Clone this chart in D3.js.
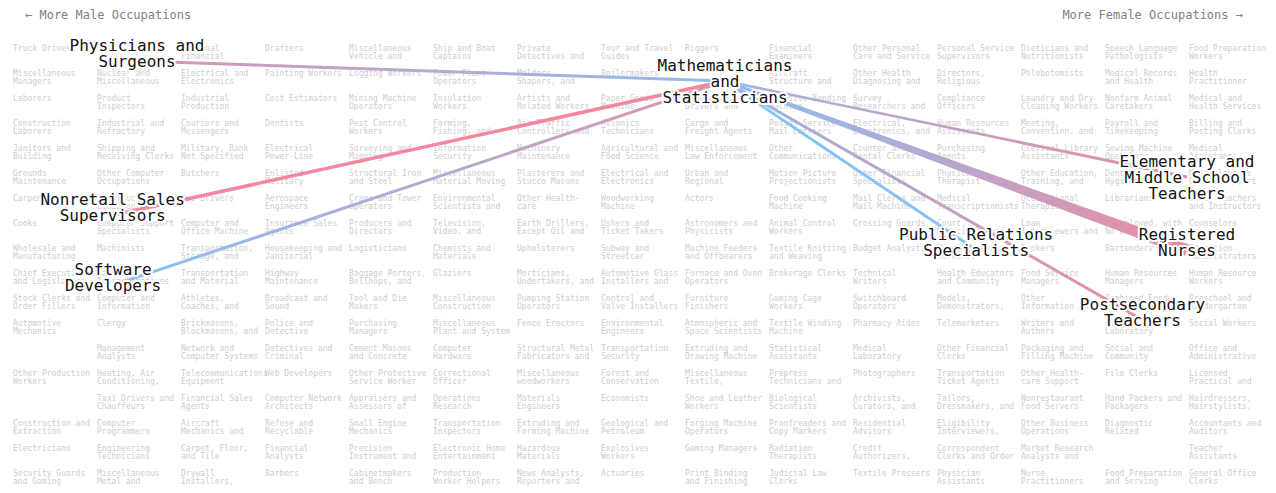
<!DOCTYPE html>
<html><head><meta charset="utf-8">
<script src="https://cdn.jsdelivr.net/npm/d3@7/dist/d3.min.js"></script>
<style>
html,body{margin:0;padding:0;background:#fff;}
svg{display:block;}
text{font-family:"DejaVu Sans Mono",monospace;}
</style></head><body>
<svg id="chart" width="1276" height="493"></svg>
<script>
// ---- Background grid of occupations (15 columns, male -> female), 18 rows each ----
const col00 = ["Truck Drivers","Miscellaneous Managers","Laborers","Construction Laborers","Janitors and Building","Grounds Maintenance","Carpenters","Cooks","Wholesale and Manufacturing","Chief Executives and Legislators","Stock Clerks and Order Fillers","Automotive Mechanics","","Other Production Workers","","Construction and Extraction","Electricians","Security Guards and Gaming"];
const col01 = ["","Nuclear and Miscellaneous","Product Inspectors","Industrial and Refractory","Shipping and Receiving Clerks","Other Computer Occupations","Construction Equipment","Computer Support Specialists","Machinists","Sales Representatives","Computer and Information","Clergy","Management Analysts","Heating, Air Conditioning,","Taxi Drivers and Chauffeurs","Computer Programmers","Engineering Technicians","Miscellaneous Metal and"];
const col02 = ["Personal Financial","Electrical and Electronics","Industrial Production","Couriers and Messengers","Military, Rank Not Specified","Butchers","Bus Drivers","Computer and Office Machine","Transportation, Storage, and","Transportation and Material","Athletes, Coaches, and","Brickmasons, Blockmasons, and","Network and Computer Systems","Telecommunications Equipment","Financial Sales Agents","Aircraft Mechanics and","Carpet, Floor, and Tile","Drywall Installers,"];
const col03 = ["Drafters","Painting Workers","Cost Estimators","Dentists","Electrical Power-Line","Enlisted Military","Aerospace Engineers","Insurance Sales Agents","Housekeeping and Janitorial","Highway Maintenance","Broadcast and Sound","Police and Detective","Detectives and Criminal","Web Developers","Computer Network Architects","Refuse and Recyclable","Financial Analysts","Barbers"];
const col04 = ["Miscellaneous Vehicle and","Logging Workers","Mining Machine Operators","Pest Control Workers","Surveying and Mapping","Structural Iron and Steel","Crane and Tower Operators","Producers and Directors","Logisticians","Baggage Porters, Bellhops, and","Tool and Die Makers","Purchasing Managers","Cement Masons and Concrete","Other Protective Service Worker","Appraisers and Assessors of","Small Engine Mechanics","Precision Instrument and","Cabinetmakers and Bench"];
const col05 = ["Ship and Boat Captains","Power Plant Operators","Insulation Workers","Farming, Fishing, and","Information Security","Miscellaneous Material Moving","Environmental Scientists and","Television, Video, and","Chemists and Materials","Glaziers","Miscellaneous Construction","Miscellaneous Plant and System","Computer Hardware","Correctional Officer","Operations Research","Transportation Inspectors","Electronic Home Entertainment","Production Worker Helpers"];
const col06 = ["Private Detectives and","Molders, Shapers, and","Artists and Related Workers","Air Traffic Controllers and","Machinery Maintenance","Plasterers and Stucco Masons","Other Health- care","Earth Drillers, Except Oil and","Upholsterers","Morticians, Undertakers, and","Pumping Station Operators","Fence Erectors","Structural Metal Fabricators and","Miscellaneous woodworkers","Materials Engineers","Extruding and Forming Machine","Hazardous Materials","News Analysts, Reporters and"];
const col07 = ["Tour and Travel Guides","Boilermakers","Paper Goods Machine","Avionics Technicians","Agricultural and Food Science","Electrical and Electronics","Woodworking Machine","Ushers and Ticket Takers","Subway and Streetcar","Automotive Glass Installers and","Control and Valve Installers","Environmental Engineers","Transportation Security","Forest and Conservation","Economists","Geological and Petroleum","Explosives Workers","Actuaries"];
const col08 = ["Riggers","","Ambulance Drivers and","Cargo and Freight Agents","Miscellaneous Law Enforcement","Urban and Regional","Actors","Astronomers and Physicists","Machine Feeders and Offbearers","Furnace and Oven Operators","Furniture Finishers","Atmospheric and Space Scientists","Extruding and Drawing Machine","Miscellaneous Textile,","Shoe and Leather Workers","Forging Machine Operators","Gaming Managers","Print Binding and Finishing"];
const col09 = ["Financial Examiners","Aircraft Structure and","Adhesive Bonding Machine","Postal Service Mail Carriers","Other Communications","Motion Picture Projectionists","Food Cooking Machine","Animal Control Workers","Textile Knitting and Weaving","Brokerage Clerks","Gaming Cage Workers","Textile Winding Machine","Statistical Assistants","Prepress Technicians and","Biological Scientists","Proofreaders and Copy Markers","Radiation Therapists","Judicial Law Clerks"];
const col10 = ["Other Personal Care and Service","Other Health Diagnosing and","Survey Researchers and","Electrical, Electronics, and","Counter and Rental Clerks","Other Financial Specialists","Mail Clerks and Mail Machine","Crossing Guards","Budget Analysts","Technical Writers","Switchboard Operators","Pharmacy Aides","Medical Laboratory","Photographers","Archivists, Curators, and","Residential Advisors","Credit Authorizers,","Textile Pressers"];
const col11 = ["Personal Service Supervisors","Directors, Religious","Compliance Officers","Human Resources Assistants","Purchasing Agents","Physical Therapist","Medical Transcriptionists","Court, Municipal, and","Miscellaneous Workers.","Health Educators and Community","Models, Demonstrators,","Telemarketers","Other Financial Clerks","Transportation Ticket Agents","Tailors, Dressmakers, and","Eligibility Interviewers,","Correspondent Clerks and Order","Physician Assistants"];
const col12 = ["Dieticians and Nutritionists","Phlebotomists","Laundry and Dry- Cleaning Workers","Meeting, Convention, and","Clerical Library Assistants","Other Education, Training, and","Occupational Therapists","Loan Interviewers and","Brokers","Food Service Managers","Other Information and","Writers and Authors","Packaging and Filling Machine","Other Health- care Support","Nonrestaurant Food Servers","Other Business Operations","Market Research Analysts and","Nurse Practitioners"];
const col13 = ["Speech Language Pathologists","Medical Records and Health","Nonfarm Animal Caretakers","Payroll and Timekeeping","Sewing Machine Operators","Dental Hygienists","Librarians","Unemployed, with No Work","Bartenders","Human Resources Managers","Combined Food Preparation and","Clinical Laboratory","Social and Community","File Clerks","Hand Packers and Packagers","Diagnostic Related","","Food Preparation and Serving"];
const col14 = ["Food Preparation Workers","Health Practitioner","Medical and Health Services","Billing and Posting Clerks","Medical Assistants","Miscellaneous Office Support","Other Teachers and Instructors","Counselors","Education Administrators","Human Resource Workers","Preschool and Kindergarten","Social Workers","Office and Administrative","Licensed Practical and","Hairdressers, Hairstylists,","Accountants and Auditors","Teacher Assistants","General Office Clerks"];
const gridColumns = [col00,col01,col02,col03,col04,col05,col06,col07,col08,col09,col10,col11,col12,col13,col14];

// ---- Axis captions ----
const leftCaption = "\u2190 More Male Occupations";
const rightCaption = "More Female Occupations \u2192";

// ---- Focus occupation and its linked occupations (grid units: column, row) ----
const hubName = "Mathematicians and Statisticians";
const hubCol = 8;
const hubRow = 1.31;
const linkNames = ["Physicians and Surgeons","Nonretail Sales Supervisors","Software Developers","Public Relations Specialists","Postsecondary Teachers","Elementary and Middle School Teachers","Registered Nurses"];
const linkCols  = [1.0, 0.71, 0.715, 10.99, 12.97, 13.5, 13.5];
const linkRows  = [0.51, 6.68, 9.47, 8.07, 10.87, 5.15, 8.07];
const linkWidthAtHub = [3, 3.5, 3, 3, 3, 2.5, 3];
const linkWidthAtEnd = [3, 3.5, 3, 3, 3, 3, 12];
const femaleShareAtHub = [0.1, 1.0, 0.8, 0.0, 0.2, 0.25, 0.05];
const femaleShareAtEnd = [0.8, 1.0, 0.05, 0.05, 0.95, 0.95, 0.95];

// ---- Drawing ----
const svg = d3.select("#chart");
const colLeft = d3.scaleLinear().domain([0,14]).range([13,1189]);
const colCenter = d3.scaleLinear().domain([0,14]).range([53,1229]);
const rowY = d3.scaleLinear().domain([0,17]).range([48.3,473.3]);
const shareColor = d3.scaleLinear().domain([0,1]).range(["#82c4f8","#f2879d"]).interpolate(d3.interpolateRgb);

function wrap(s, max){
  const words = s.split(" ").filter(w=>w.length);
  const lines = []; let cur = "";
  words.forEach(w=>{
    if(!cur) cur = w;
    else if((cur+" "+w).length <= max) cur += " "+w;
    else { lines.push(cur); cur = w; }
  });
  if(cur) lines.push(cur);
  return lines;
}

// captions
svg.append("text").attr("x",25).attr("y",15).attr("dy","0.35em")
  .attr("font-size",12).attr("fill","#808080").text(leftCaption);
svg.append("text").attr("x",1243).attr("y",15).attr("dy","0.35em")
  .attr("text-anchor","end").attr("font-size",12).attr("fill","#808080").text(rightCaption);

// grid
const cells = [];
gridColumns.forEach((col,c)=>col.forEach((name,r)=>{ if(name) cells.push({name,c,r}); }));
svg.append("g").selectAll("text").data(cells).join("text")
  .attr("x",d=>colLeft(d.c)).attr("y",d=>rowY(d.r))
  .attr("font-size",8).attr("fill","#cdcdcd")
  .each(function(d){
    const lines = wrap(d.name,16).slice(0,2);
    d3.select(this).selectAll("tspan").data(lines).join("tspan")
      .attr("x",colLeft(d.c)).attr("dy",(l,i)=> i===0 ? "0.35em" : "1em").text(l=>l);
  });

// links
const hub = {x: colCenter(hubCol), y: rowY(hubRow)};
const nodes = linkNames.map((n,i)=>({name:n, x:colCenter(linkCols[i]), y:rowY(linkRows[i]),
  w0:linkWidthAtHub[i], w1:linkWidthAtEnd[i], c0:shareColor(femaleShareAtHub[i]), c1:shareColor(femaleShareAtEnd[i])}));
const defs = svg.append("defs");
nodes.forEach((d,i)=>{
  const g = defs.append("linearGradient").attr("id","lg"+i).attr("gradientUnits","userSpaceOnUse")
    .attr("x1",hub.x).attr("y1",hub.y).attr("x2",d.x).attr("y2",d.y);
  g.append("stop").attr("offset",0).attr("stop-color",d.c0);
  g.append("stop").attr("offset",1).attr("stop-color",d.c1);
});
const poly = d3.line();
svg.append("g").selectAll("path").data(nodes).join("path")
  .attr("d",d=>{
    const dx = d.x-hub.x, dy = d.y-hub.y, L = Math.hypot(dx,dy);
    const nx = -dy/L, ny = dx/L;
    return poly([[hub.x+nx*d.w0/2, hub.y+ny*d.w0/2],[d.x+nx*d.w1/2, d.y+ny*d.w1/2],
                 [d.x-nx*d.w1/2, d.y-ny*d.w1/2],[hub.x-nx*d.w0/2, hub.y-ny*d.w0/2]])+"Z";
  })
  .attr("fill",(d,i)=>"url(#lg"+i+")");

// labels
const labels = [{name:hubName,x:hub.x,y:hub.y}].concat(nodes);
svg.append("g").selectAll("text").data(labels).join("text")
  .attr("x",d=>d.x).attr("y",d=>d.y).attr("text-anchor","middle")
  .attr("font-size",16).attr("fill","#111")
  .attr("stroke","#fff").attr("stroke-width",4).attr("stroke-linejoin","round")
  .attr("paint-order","stroke")
  .each(function(d){
    const lines = wrap(d.name,16);
    d3.select(this).selectAll("tspan").data(lines).join("tspan")
      .attr("x",d.x).attr("dy",(l,i)=> i===0 ? "-0.65em" : "1em").text(l=>l);
  });
</script>
</body></html>
